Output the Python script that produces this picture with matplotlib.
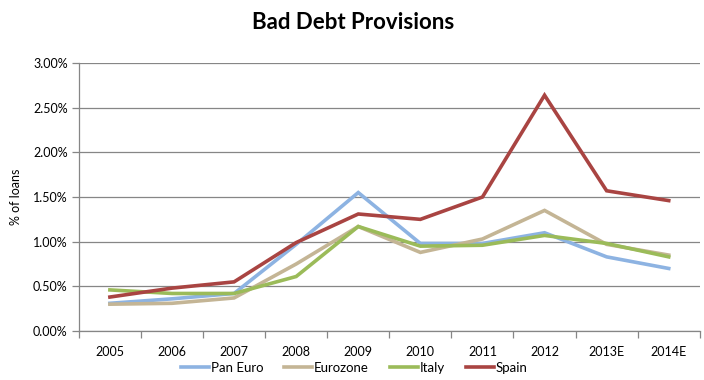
import numpy as np
import matplotlib
matplotlib.use("Agg")
import matplotlib.pyplot as plt
from matplotlib.ticker import FuncFormatter, FixedLocator

plt.rcParams['font.family'] = ['Lato', 'DejaVu Sans']

years = ["2005", "2006", "2007", "2008", "2009", "2010", "2011", "2012", "2013E", "2014E"]
pan_euro = [0.31, 0.36, 0.42, 0.97, 1.55, 0.98, 0.98, 1.10, 0.83, 0.70]
eurozone = [0.30, 0.31, 0.37, 0.75, 1.17, 0.88, 1.03, 1.35, 0.97, 0.85]
italy = [0.46, 0.42, 0.42, 0.61, 1.17, 0.95, 0.96, 1.07, 0.98, 0.83]
spain = [0.38, 0.48, 0.55, 0.99, 1.31, 1.25, 1.50, 2.64, 1.57, 1.46]

series = [
    ("Pan Euro", pan_euro, "#8DB3E2"),
    ("Eurozone", eurozone, "#C4B595"),
    ("Italy", italy, "#9BBB59"),
    ("Spain", spain, "#A94442"),
]

fig = plt.figure(figsize=(7.04, 3.80), dpi=100)
ax = fig.add_axes([0.112, 0.129, 0.882, 0.705])

x = np.arange(len(years))
for name, vals, col in series:
    ax.plot(x, np.array(vals) / 100, color=col, lw=2.6, label=name, solid_joinstyle='miter')

ax.set_xlim(-0.5, len(years) - 0.5)
ax.set_ylim(0, 0.03)
ax.set_yticks(np.arange(0, 0.0301, 0.005))
ax.yaxis.set_major_formatter(FuncFormatter(lambda v, p: f"{v*100:.2f}%"))
ax.grid(axis='y', color='#868686', lw=0.9)
ax.set_axisbelow(True)

ax.set_xticks(x)
ax.set_xticklabels(years)
ax.xaxis.set_minor_locator(FixedLocator(np.arange(-0.5, len(years), 1)))
ax.tick_params(axis='x', which='major', length=0, pad=11, labelsize=9)
ax.tick_params(axis='x', which='minor', length=5, color='#868686', width=0.9)
ax.tick_params(axis='y', length=5, color='#868686', width=0.9, labelsize=9, pad=3)

for s in ['top', 'right']:
    ax.spines[s].set_visible(False)
for s in ['left', 'bottom']:
    ax.spines[s].set_color('#868686')
    ax.spines[s].set_linewidth(0.9)

ax.set_ylabel("% of loans", fontsize=9, labelpad=8)
fig.text(0.502, 0.942, "Bad Debt Provisions", ha='center', va='center',
         fontsize=16, fontweight='bold')

fig.legend(loc='center', bbox_to_anchor=(0.503, 0.032), ncol=4, frameon=False,
           fontsize=9.5, handlelength=2.1, handletextpad=0.15, columnspacing=1.6)

fig.savefig("out.png", dpi=100)
